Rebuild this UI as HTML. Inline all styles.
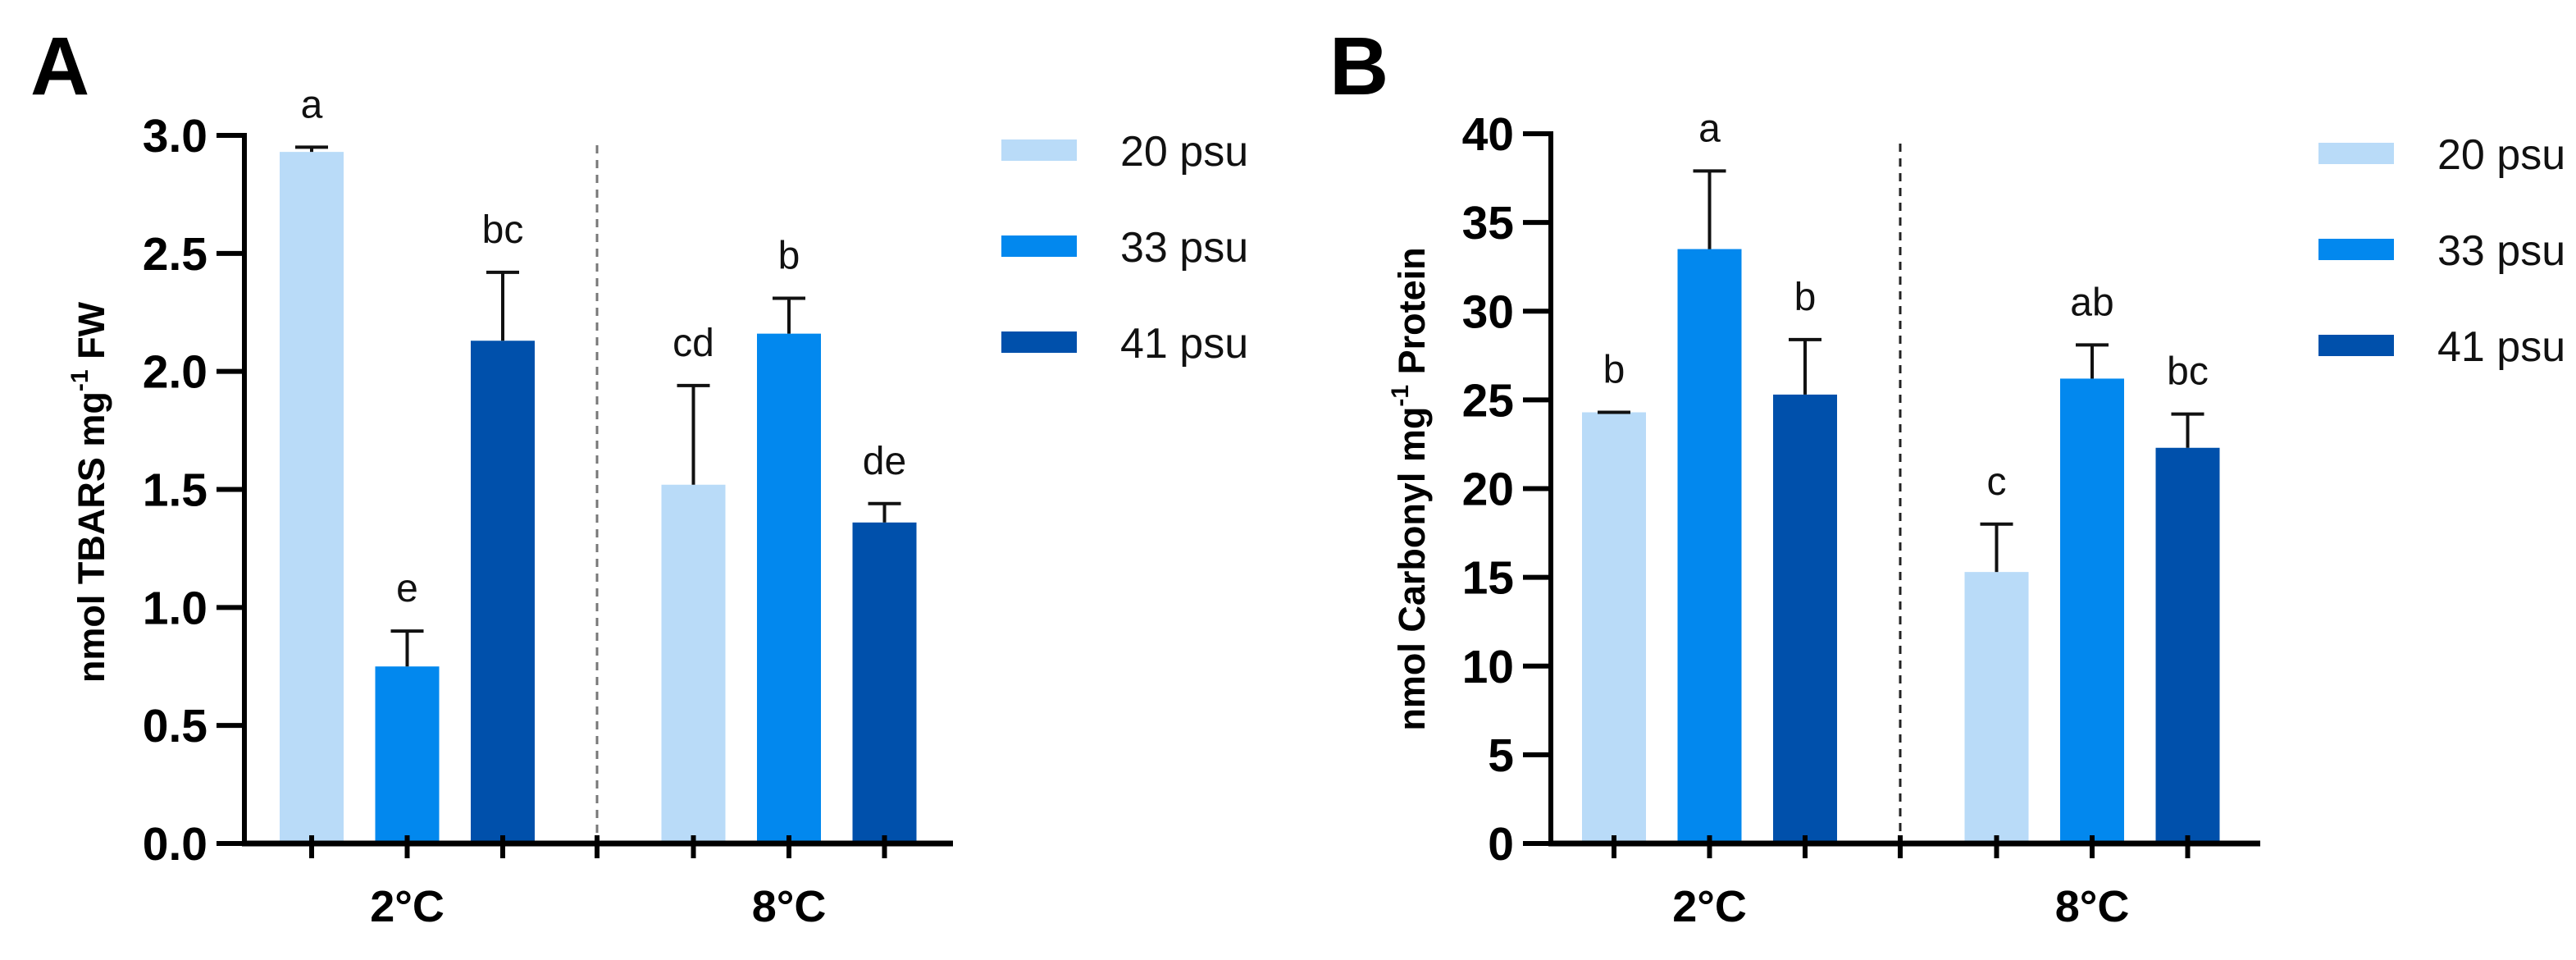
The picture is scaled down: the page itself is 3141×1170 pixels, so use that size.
<!DOCTYPE html>
<html><head><meta charset="utf-8"><style>
html,body{margin:0;padding:0;background:#fff;}
svg{display:block;font-family:"Liberation Sans",Arial,sans-serif;}
</style></head><body>
<svg id="fig" width="3141" height="1170" viewBox="0 0 3141 1170" xmlns="http://www.w3.org/2000/svg">
<rect width="3141" height="1170" fill="#fff"/>
<text x="37" y="115" font-size="100" font-weight="bold">A</text>
<text x="1621" y="115" font-size="100" font-weight="bold">B</text>
<g id="pa"></g>
<g id="pb"></g>
</svg>
<script>
const groups = ["2°C", "8°C"];
const series = ["20 psu", "33 psu", "41 psu"];
const colors = ["#b9dbf8", "#0288ee", "#0050ab"];
const aValues = [2.93, 0.75, 2.13, 1.52, 2.16, 1.36];
const aErrTop = [2.95, 0.90, 2.42, 1.94, 2.31, 1.44];
const aLetters = ["a", "e", "bc", "cd", "b", "de"];
const aTicks = [0, 0.5, 1.0, 1.5, 2.0, 2.5, 3.0];
const aTickLabels = ["0.0", "0.5", "1.0", "1.5", "2.0", "2.5", "3.0"];
const bValues = [24.3, 33.5, 25.3, 15.3, 26.2, 22.3];
const bErrTop = [24.3, 37.9, 28.4, 18.0, 28.1, 24.2];
const bLetters = ["b", "a", "b", "c", "ab", "bc"];
const bTicks = [0, 5, 10, 15, 20, 25, 30, 35, 40];
const bTickLabels = ["0", "5", "10", "15", "20", "25", "30", "35", "40"];

const NS = "http://www.w3.org/2000/svg";
function mk(parent, tag, attrs, text) {
  const e = document.createElementNS(NS, tag);
  for (const k in attrs) e.setAttribute(k, attrs[k]);
  if (text !== undefined) e.textContent = text;
  parent.appendChild(e);
  return e;
}

function drawPanel(g, cfg) {
  const y = v => cfg.y0 - (v / cfg.max) * (cfg.y0 - cfg.yTop);
  const x = i => cfg.x0 + cfg.first + i * cfg.step + (i >= 3 ? cfg.gap : 0);
  // bars
  cfg.values.forEach((v, i) => {
    const r = mk(g, "rect", {x: x(i) - 39, y: y(v), width: 78, height: cfg.y0 - y(v), fill: colors[i % 3]});
    
    
    const et = y(cfg.err[i]);
    const eg = mk(g, "g", {stroke: "#111", "stroke-width": 4});
    
    
    mk(eg, "line", {x1: x(i), x2: x(i), y1: y(v), y2: et});
    mk(eg, "line", {x1: x(i) - 20, x2: x(i) + 20, y1: et, y2: et});
    const t = mk(g, "text", {x: x(i), y: et - 36, "font-size": 48, "text-anchor": "middle", fill: "#111"}, cfg.letters[i]);
    
    
  });
  // dashed separator
  const dx = cfg.x0 + cfg.dash;
  const d = mk(g, "line", {x1: dx, x2: dx, y1: cfg.yTop + 12, y2: cfg.y0, stroke: cfg.dashColor, "stroke-width": 3, "stroke-dasharray": "10,8"});
  
  
  // y axis
  const ya = mk(g, "g", {});
  
  
  mk(ya, "line", {x1: cfg.x0, x2: cfg.x0, y1: cfg.yTop - 3, y2: cfg.y0 + 3, stroke: "#000", "stroke-width": 6});
  cfg.ticks.forEach((tv, k) => {
    mk(ya, "line", {x1: cfg.x0 - 34, x2: cfg.x0, y1: y(tv), y2: y(tv), stroke: "#000", "stroke-width": 6});
    const tl = mk(ya, "text", {x: cfg.x0 - 45, y: y(tv) + 20, "font-size": 57, "font-weight": "bold", "text-anchor": "end"}, cfg.tickLabels[k]);
    
    
  });
  // x axis
  const xa = mk(g, "g", {});
  
  
  mk(xa, "line", {x1: cfg.x0 - 3, x2: cfg.xEnd, y1: cfg.y0, y2: cfg.y0, stroke: "#000", "stroke-width": 7});
  for (let i = 0; i < 6; i++) mk(xa, "line", {x1: x(i), x2: x(i), y1: cfg.y0 - 10, y2: cfg.y0 + 18, stroke: "#000", "stroke-width": 6});
  mk(xa, "line", {x1: dx, x2: dx, y1: cfg.y0 - 10, y2: cfg.y0 + 18, stroke: "#000", "stroke-width": 6});
  groups.forEach((gname, j) => {
    const gl = mk(xa, "text", {x: x(j * 3 + 1), y: cfg.y0 + 95, "font-size": 54, "font-weight": "bold", "text-anchor": "middle"}, gname);
    
    
  });
  // y title
  const yt = mk(g, "text", {x: 0, y: 0, "font-size": 45, "font-weight": "bold", "text-anchor": "middle",
    transform: "translate(" + cfg.titleX + "," + cfg.titleY + ") rotate(-90)"});
  
  
  mk(yt, "tspan", {}, cfg.title1);
  mk(yt, "tspan", {dy: -20, "font-size": 30}, "-1");
  mk(yt, "tspan", {dy: 20}, cfg.title2);
  // legend
  series.forEach((s, k) => {
    const lg = mk(g, "g", {});
    
    
    const cy = cfg.legY + k * 117;
    mk(lg, "rect", {x: cfg.legX, y: cy - 13, width: 92, height: 26, fill: colors[k]});
    mk(lg, "text", {x: cfg.legX + 145, y: cy + 19, "font-size": 52, fill: "#111"}, s);
  });
}

drawPanel(document.getElementById("pa"), {
  values: aValues, err: aErrTop, letters: aLetters, ticks: aTicks, tickLabels: aTickLabels,
  max: 3.0, x0: 298, y0: 1028, yTop: 165, first: 82, step: 116.5, gap: 116, dash: 430, xEnd: 1162,
  dashColor: "#777", titleX: 127, titleY: 600, title1: "nmol TBARS mg", title2: " FW",
  legX: 1221, legY: 183
});
drawPanel(document.getElementById("pb"), {
  values: bValues, err: bErrTop, letters: bLetters, ticks: bTicks, tickLabels: bTickLabels,
  max: 40, x0: 1891, y0: 1028, yTop: 163, first: 77, step: 116.5, gap: 117, dash: 426, xEnd: 2756,
  dashColor: "#222", titleX: 1737, titleY: 596, title1: "nmol Carbonyl mg", title2: " Protein",
  legX: 2827, legY: 187
});
</script>
</body></html>
